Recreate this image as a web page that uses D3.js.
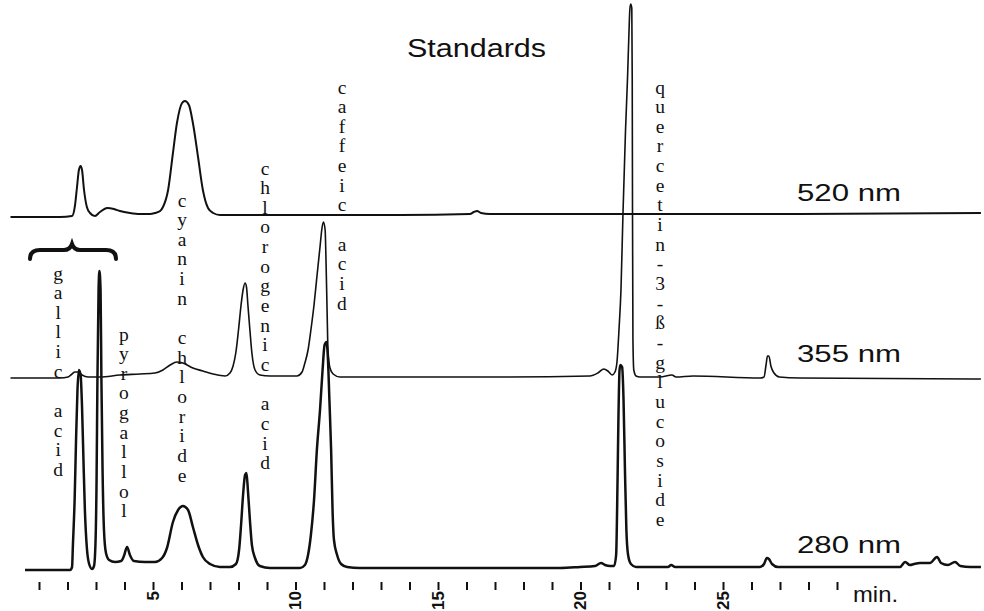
<!DOCTYPE html>
<html><head><meta charset="utf-8">
<script src="https://cdn.jsdelivr.net/npm/d3@7"></script>
<style>body{margin:0;background:#fff} svg{display:block;background:#fff}</style>
</head><body>
<svg id="c" width="984" height="611"></svg>
<script>
// retention time (min), signal (detector units) relative to each trace's baseline
const trace520 = [
  [0.0,-1],[1.74,-1],[2.16,0],[2.26,10],[2.33,28],[2.40,46],[2.46,50],[2.51,46],[2.58,26],[2.68,9],
  [2.79,3],[2.96,0],[3.14,4],[3.39,8],[3.63,7],[3.84,5],[4.19,3],[4.54,2],[4.89,2],[5.07,3],
  [5.25,5],[5.35,9],[5.53,26],[5.70,63],[5.84,93],[6.02,113],[6.12,115],[6.26,111],[6.40,93],[6.58,59],
  [6.75,26],[6.93,8],[7.11,3],[7.35,1],[8.05,1],[10.16,1],[13.67,1],[16.12,2],[16.26,4],[16.37,5],
  [16.51,3],[16.82,2],[20.68,2],[24.19,2],[27.7,2],[34.05,3]
];
const trace355 = [
  [0.0,0],[1.74,0],[2.02,1],[2.16,4],[2.26,6],[2.37,6],[2.51,3],[2.72,1],[3.14,1],[3.84,3],
  [4.54,4],[5.07,5],[5.35,8],[5.60,13],[5.84,16],[6.05,15],[6.40,10],[6.75,7],[7.11,4],[7.53,2],
  [7.70,5],[7.81,12],[7.91,26],[8.00,48],[8.09,73],[8.16,88],[8.23,95],[8.28,91],[8.33,73],[8.40,48],
  [8.47,25],[8.58,8],[8.75,3],[9.11,2],[10.05,2],[10.23,6],[10.33,15],[10.44,28],[10.54,48],[10.65,73],
  [10.75,101],[10.86,131],[10.93,150],[10.98,156],[11.04,148],[11.07,118],[11.11,65],[11.14,28],[11.21,10],[11.32,4],
  [11.56,1],[12.96,1],[17.18,1],[20.33,2],[20.61,5],[20.82,9],[20.96,7],[21.11,3],[21.21,6],[21.28,16],
  [21.35,48],[21.42,88],[21.49,164],[21.58,248],[21.65,300],[21.70,345],[21.73,368],[21.76,374],[21.80,370],[21.815,300],
  [21.825,164],[21.84,38],[21.87,8],[21.95,2],[22.09,1],[22.79,1],[23.21,3],[23.35,1],[23.95,2],[26.30,0],[26.44,1],
  [26.51,13],[26.56,22],[26.61,22],[26.68,12],[26.79,5],[26.98,1],[27.7,0],[34.05,-1]
];
const trace280 = [
  [0.51,-1],[2.09,-1],[2.16,2],[2.19,24],[2.25,69],[2.30,129],[2.35,179],[2.40,199],[2.46,194],[2.51,162],
  [2.56,109],[2.61,59],[2.68,21],[2.75,6],[2.86,0],[2.93,3],[2.98,24],[3.02,89],[3.05,189],[3.09,279],
  [3.12,298],[3.16,279],[3.19,189],[3.23,99],[3.28,39],[3.35,16],[3.46,9],[3.67,7],[3.88,8],[3.98,13],
  [4.09,22],[4.19,14],[4.33,8],[4.72,7],[5.07,7],[5.32,11],[5.49,21],[5.70,47],[5.88,59],[6.05,63],
  [6.23,59],[6.40,42],[6.58,24],[6.75,12],[7.00,5],[7.35,2],[7.70,2],[7.91,5],[8.02,19],[8.09,44],
  [8.16,74],[8.23,94],[8.28,96],[8.33,79],[8.40,49],[8.47,24],[8.58,11],[8.75,3],[9.11,1],[10.16,1],
  [10.33,4],[10.44,14],[10.54,34],[10.65,69],[10.75,119],[10.86,159],[10.95,199],[11.02,224],[11.09,227],[11.14,209],
  [11.19,169],[11.25,119],[11.30,59],[11.35,29],[11.46,14],[11.60,5],[11.81,2],[12.26,1],[15.42,1],[19.28,1],
  [19.98,2],[20.51,3],[20.72,6],[20.86,4],[21.04,3],[21.18,3],[21.25,14],[21.30,89],[21.33,149],[21.37,199],
  [21.40,204],[21.46,202],[21.51,169],[21.56,99],[21.61,39],[21.67,14],[21.77,5],[21.95,2],[23.07,2],[23.18,4],
  [23.32,2],[24.19,2],[26.30,2],[26.44,5],[26.54,11],[26.61,10],[26.72,5],[26.93,2],[29.46,2],[31.21,2],
  [31.39,7],[31.56,4],[31.70,5],[31.91,6],[32.26,6],[32.51,12],[32.65,6],[32.89,4],[33.14,7],[33.33,3],
  [33.68,2],[34.05,2]
];
const wavelengths = ["520 nm", "355 nm", "280 nm"];
const tickMinutes = d3.range(1, 30);
const tickLabels = [5, 10, 15, 20, 25];
const compounds = ["gallic acid", "pyrogallol", "cyanin chloride", "chlorogenic acid", "caffeic acid", "quercetin-3-ß-glucoside"];
const compoundTimes = [1.67, 3.98, 6.02, 8.93, 11.63, 22.79];

// ---- layout ----
const svg = d3.select("#c");
const x = d3.scaleLinear().domain([0, 34]).range([10.5, 979.5]);
const baselines = [216, 378, 569];
const lineWidths = [2, 1.6, 2.5];
const labelTop = [273, 334, 200, 168, 87, 87];
const step = 19.65;

const traces = [trace520, trace355, trace280];
traces.forEach((data, i) => {
  const y = d3.scaleLinear().domain([0, 100]).range([baselines[i], baselines[i] - 100]);
  const line = d3.line().x(d => x(d[0])).y(d => y(d[1])).curve(d3.curveMonotoneX);
  svg.append("path").datum(data).attr("d", line)
    .attr("fill", "none").attr("stroke", "#111").attr("stroke-width", lineWidths[i])
    .attr("stroke-linejoin", "round");
});

// title
svg.append("text").attr("x", 407).attr("y", 57).text("Standards")
  .attr("font-family", "Liberation Sans, Arial, sans-serif").attr("font-size", 25)
  .attr("textLength", 139).attr("lengthAdjust", "spacingAndGlyphs").attr("fill", "#111");

// wavelength labels
const wlY = [201, 362, 553];
wavelengths.forEach((w, i) => {
  svg.append("text").attr("x", 797).attr("y", wlY[i]).text(w)
    .attr("font-family", "Liberation Sans, Arial, sans-serif").attr("font-size", 24)
    .attr("textLength", 104).attr("lengthAdjust", "spacingAndGlyphs").attr("fill", "#111");
});

// compound labels (vertical letter columns)
compounds.forEach((name, i) => {
  const g = svg.append("g");
  Array.from(name).forEach((ch, k) => {
    if (ch === " ") return;
    g.append("text").attr("x", x(compoundTimes[i])).attr("y", labelTop[i] + k * step)
      .attr("text-anchor", "middle").attr("dominant-baseline", "central")
      .attr("font-family", "Liberation Serif, Times New Roman, serif").attr("font-size", 19.5)
      .attr("fill", "#111").text(ch);
  });
});

// brace over gallic acid / pyrogallol
svg.append("path")
  .attr("d", "M30,259 Q30,250 40,250 L64,250 Q70,250 72,244 Q74,250 80,250 L106,250 Q116,250 116,259")
  .attr("fill", "none").attr("stroke", "#111").attr("stroke-width", 4).attr("stroke-linecap", "round");

// x axis
const axis = d3.axisBottom(x).tickValues(tickMinutes).tickSize(8).tickFormat("");
const ax = svg.append("g").attr("transform", "translate(0,582)").call(axis);
ax.select(".domain").remove();
ax.selectAll(".tick line").attr("stroke", "#111").attr("stroke-width", 2);
tickLabels.forEach(v => {
  svg.append("text").attr("transform", `translate(${x(v)},591) rotate(-90)`)
    .attr("text-anchor", "end").attr("dy", "0.35em")
    .attr("font-family", "Liberation Sans, Arial, sans-serif").attr("font-weight", "bold")
    .attr("font-size", 17).attr("fill", "#111").text(v);
});
svg.append("text").attr("x", 853).attr("y", 602).text("min.")
  .attr("font-family", "Liberation Sans, Arial, sans-serif").attr("font-size", 22)
  .attr("textLength", 45).attr("lengthAdjust", "spacingAndGlyphs").attr("fill", "#111");
</script>
</body></html>
